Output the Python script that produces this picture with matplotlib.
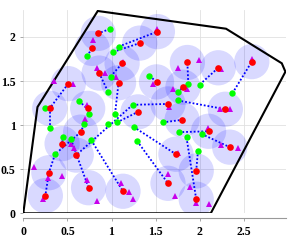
import matplotlib
matplotlib.use("Agg")
import matplotlib.pyplot as plt
from matplotlib.patches import Circle

# final positions (red)
red_x = [0.85, 0.78, 1.32, 1.52, 0.86, 1.08, 1.12, 0.51, 0.73, 0.30, 1.30, 1.51, 1.86, 1.81, 2.21, 2.59,
         1.64, 2.29, 1.80, 2.10, 2.34, 0.65, 0.44, 0.60, 1.73, 1.96, 1.64, 1.96, 0.29, 0.74, 0.25, 1.13]
red_y = [2.04, 1.87, 1.93, 2.06, 1.59, 1.48, 1.70, 1.47, 1.19, 1.19, 1.15, 1.49, 1.71, 1.43, 1.65, 1.72,
         1.24, 1.18, 1.06, 0.93, 0.75, 0.92, 0.79, 0.66, 0.67, 0.48, 0.34, 0.16, 0.46, 0.29, 0.20, 0.25]

# initial positions (green)
green_x = [0.98, 0.72, 1.08, 1.02, 0.99, 0.96, 0.63, 0.25, 1.43, 1.87, 2.00, 1.75, 1.75, 1.24, 2.37, 0.74,
           1.04, 0.96, 1.06, 1.25, 1.29, 0.69, 0.30, 0.45, 0.54, 0.77, 0.36, 1.58, 1.76, 1.85, 2.02, 1.98]
green_y = [2.09, 1.78, 1.89, 1.83, 1.55, 1.38, 1.27, 1.19, 1.56, 1.47, 1.46, 1.37, 1.28, 1.23, 1.36, 1.13,
           1.13, 1.01, 1.03, 0.98, 0.82, 1.01, 0.97, 0.87, 0.84, 0.83, 0.67, 1.03, 0.92, 0.86, 0.90, 0.71]

# users (magenta triangles)
user_x = [0.785, 0.832, 0.929, 1.051, 1.134, 0.350, 0.567, 1.512, 1.748, 1.995, 2.245, 2.593, 1.474, 1.694,
          1.856, 1.652, 2.224, 2.344, 2.091, 2.245, 2.438, 0.700, 0.546, 0.580, 0.124, 0.283, 0.435, 0.719,
          0.227, 0.832, 1.104, 1.202, 1.247, 1.644, 1.890, 1.720, 2.109, 1.961, 1.754, 0.717]
user_y = [1.963, 1.648, 1.592, 1.547, 1.712, 1.497, 1.468, 2.095, 1.653, 1.738, 1.633, 1.744, 1.466, 1.407,
          1.415, 1.200, 1.183, 1.179, 0.964, 0.771, 0.737, 1.069, 0.782, 0.746, 0.522, 0.397, 0.421, 0.378,
          0.164, 0.145, 0.340, 0.239, 0.159, 0.442, 0.302, 0.196, 0.105, 0.122, 0.684, 1.228]

# region boundary
hull_x = [0.0, 0.161, 0.844, 2.298, 2.930, 2.971, 2.125, 0.0]
hull_y = [0.0, 1.205, 2.294, 2.093, 1.701, 1.605, 0.0, 0.0]

coverage_radius = 0.2

# links (node labels: G# green, R# red, 1-based)
links = [("G1", "R1"), ("G2", "R2"), ("G3", "R4"), ("G4", "R3"), ("G5", "R7"), ("G6", "R5"),
         ("G17", "R6"), ("R8", "R10"), ("R10", "G23"), ("R22", "G27"), ("G27", "R29"), ("R29", "R31"),
         ("G25", "R30"), ("G14", "R24"), ("G26", "R32"), ("G19", "R11"), ("G14", "R17"), ("G20", "R25"),
         ("G21", "R27"), ("G28", "R19"), ("G13", "R18"), ("G29", "R20"), ("G31", "R21"), ("G30", "R28"),
         ("G32", "R26"), ("G10", "R13"), ("G11", "R15"), ("G15", "R16"), ("G9", "R12"), ("G12", "R14"),
         ("G7", "R9"), ("G16", "R9"), ("G22", "R22"), ("G24", "R23")]

x_ticks = [0, 0.5, 1, 1.5, 2, 2.5]
y_ticks = [0, 0.5, 1, 1.5, 2]
x_tick_labels = ["0", "0.5", "1", "1.5", "2", "2.5"]
y_tick_labels = ["0", "0.5", "1", "1.5", "2"]

nodes = {}
for i, (x, y) in enumerate(zip(red_x, red_y)):
    nodes["R%d" % (i + 1)] = (x, y)
for i, (x, y) in enumerate(zip(green_x, green_y)):
    nodes["G%d" % (i + 1)] = (x, y)

fig = plt.figure(figsize=(2.91, 2.42), dpi=100)
ax = fig.add_axes([0.080, 0.1186, 0.902, 0.840])

for x, y in zip(red_x, red_y):
    ax.add_patch(Circle((x, y), coverage_radius, facecolor=(0.0, 0.0, 1.0, 0.15),
                        edgecolor='none', zorder=2))

ax.plot(hull_x, hull_y, color='black', lw=1.5, zorder=3, solid_joinstyle='miter')

for a, b in links:
    (x1, y1), (x2, y2) = nodes[a], nodes[b]
    ax.plot([x1, x2], [y1, y2], color=(0.0, 0.0, 1.0), lw=1.3,
            linestyle=(0, (1, 1.1)), zorder=4)

ax.plot(user_x, user_y, linestyle='none', marker='^', markersize=5,
        color=(0.78, 0.0, 0.92), markeredgewidth=0, zorder=5)
ax.plot(green_x, green_y, linestyle='none', marker='o', markersize=4.6,
        color=(0.0, 1.0, 0.0), markeredgewidth=0, zorder=6)
ax.plot(red_x, red_y, linestyle='none', marker='o', markersize=4.8,
        color=(1.0, 0.0, 0.0), markeredgewidth=0, zorder=7)

ax.set_xlim(0, 2.975)
ax.set_ylim(0, 2.305)
ax.set_aspect('auto')

ax.set_xticks(x_ticks)
ax.set_xticklabels(x_tick_labels)
ax.set_yticks(y_ticks)
ax.set_yticklabels(y_tick_labels)

ax.grid(True, color=(0.88, 0.88, 0.88), lw=0.6, zorder=0)
ax.set_axisbelow(True)

for s in ['top', 'right', 'left']:
    ax.spines[s].set_visible(False)
ax.spines['bottom'].set_position(('outward', 3.5))
ax.spines['bottom'].set_color((0.6, 0.6, 0.6))
ax.spines['bottom'].set_linewidth(0.8)

ax.tick_params(axis='both', direction='out', length=2.5, width=0.6,
               color=(0.6, 0.6, 0.6), labelcolor='black')
ax.tick_params(axis='x', pad=3.5)
ax.tick_params(axis='y', pad=3)
for lab in ax.get_xticklabels() + ax.get_yticklabels():
    lab.set_fontfamily('Liberation Serif')
    lab.set_fontweight('bold')
    lab.set_fontsize(8.5)

fig.savefig("out.png", dpi=100)
